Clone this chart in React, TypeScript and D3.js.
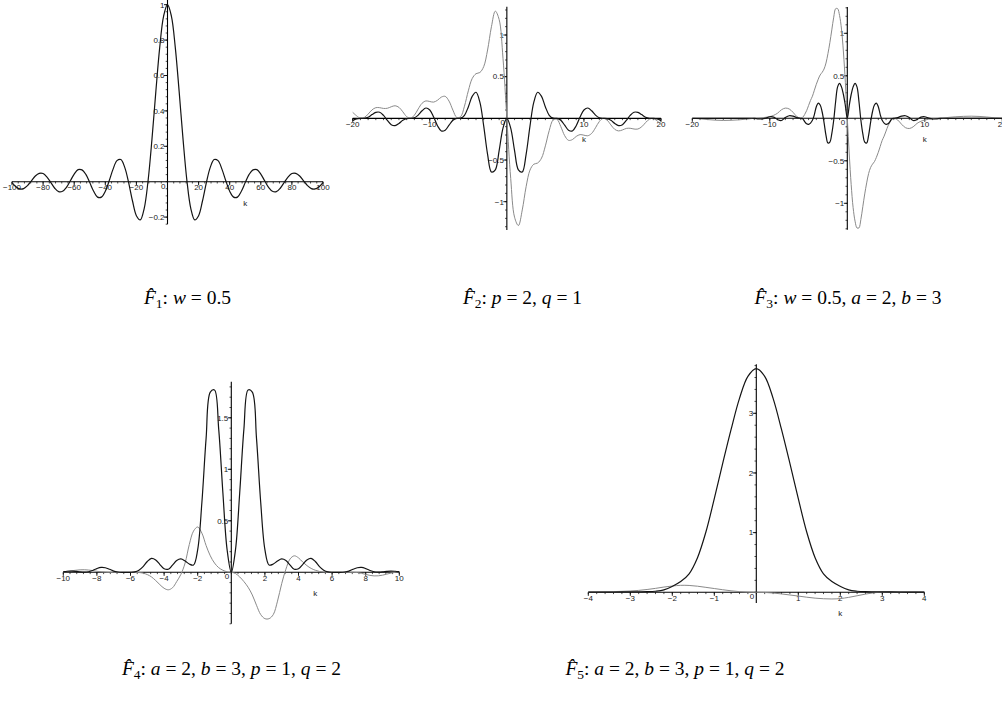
import React from 'react';
import * as d3 from 'd3';

// ---------- Panel 1 data ----------
const f1K = [-100,-97.5,-95,-92.5,-90,-87.5,-85,-82.5,-80,-77.5,-75,-72.5,-70,-67.5,-65,-62.5,-60,-57.5,-55,-52.5,-50,-47.5,-45,-42.5,-40,-37.5,-35,-32.5,-30,-27.5,-25,-22.5,-20,-17.5,-15,-12.5,-10,-7.5,-5,-2.5,0,2.5,5,7.5,10,12.5,15,17.5,20,22.5,25,27.5,30,32.5,35,37.5,40,42.5,45,47.5,50,52.5,55,57.5,60,62.5,65,67.5,70,72.5,75,77.5,80,82.5,85,87.5,90,92.5,95,97.5,100];
const f1Black = [-0.005,-0.028,-0.041,-0.039,-0.022,0.005,0.032,0.047,0.046,0.026,-0.005,-0.037,-0.056,-0.054,-0.032,0.005,0.043,0.068,0.067,0.041,-0.005,-0.054,-0.087,-0.087,-0.054,0.005,0.071,0.119,0.125,0.081,-0.005,-0.109,-0.192,-0.216,-0.152,0.005,0.239,0.509,0.759,0.936,1,0.936,0.759,0.509,0.239,0.005,-0.152,-0.216,-0.192,-0.109,-0.005,0.081,0.125,0.119,0.071,0.005,-0.054,-0.087,-0.087,-0.054,-0.005,0.041,0.067,0.068,0.043,0.005,-0.032,-0.054,-0.056,-0.037,-0.005,0.026,0.046,0.047,0.032,0.005,-0.022,-0.039,-0.041,-0.028,-0.005];

// ---------- Panel 2 data ----------
const f2K = [-20,-19.5,-19,-18.5,-18,-17.5,-17,-16.5,-16,-15.5,-15,-14.5,-14,-13.5,-13,-12.5,-12,-11.5,-11,-10.5,-10,-9.5,-9,-8.5,-8,-7.5,-7,-6.5,-6,-5.5,-5,-4.5,-4,-3.5,-3,-2.5,-2,-1.5,-1,-0.5,0,0.5,1,1.5,2,2.5,3,3.5,4,4.5,5,5.5,6,6.5,7,7.5,8,8.5,9,9.5,10,10.5,11,11.5,12,12.5,13,13.5,14,14.5,15,15.5,16,16.5,17,17.5,18,18.5,19,19.5,20];
const f2Black = [-0.027,-0.007,0.000,0.001,0.014,0.045,0.072,0.073,0.035,-0.025,-0.076,-0.087,-0.061,-0.024,-0.003,0.000,0.007,0.039,0.091,0.124,0.100,0.016,-0.088,-0.151,-0.142,-0.082,-0.023,-0.001,0.002,0.037,0.137,0.263,0.313,0.194,-0.094,-0.431,-0.644,-0.618,-0.387,-0.117,0,-0.117,-0.387,-0.618,-0.644,-0.431,-0.094,0.194,0.313,0.263,0.137,0.037,0.002,-0.001,-0.023,-0.082,-0.142,-0.151,-0.088,0.016,0.100,0.124,0.091,0.039,0.007,0.000,-0.003,-0.024,-0.061,-0.087,-0.076,-0.025,0.035,0.073,0.072,0.045,0.014,0.001,0.000,-0.007,-0.027];
const f2Grey = [0.072,0.031,0.002,0.010,0.051,0.101,0.128,0.128,0.119,0.121,0.139,0.151,0.132,0.079,0.021,0.001,0.038,0.113,0.181,0.209,0.202,0.195,0.217,0.255,0.264,0.207,0.099,0.011,0.020,0.146,0.330,0.477,0.536,0.550,0.621,0.820,1.099,1.286,1.186,0.721,0,-0.721,-1.186,-1.286,-1.099,-0.820,-0.621,-0.550,-0.536,-0.477,-0.330,-0.146,-0.020,-0.011,-0.099,-0.207,-0.264,-0.255,-0.217,-0.195,-0.202,-0.209,-0.181,-0.113,-0.038,-0.001,-0.021,-0.079,-0.132,-0.151,-0.139,-0.121,-0.119,-0.128,-0.128,-0.101,-0.051,-0.010,-0.002,-0.031,-0.072];

// ---------- Panel 3 data ----------
const f3K = [-20,-19,-18,-17,-16,-15,-14,-13,-12,-11.5,-11,-10.5,-10,-9.5,-9,-8.5,-8,-7.5,-7,-6.5,-6,-5.75,-5.5,-5.25,-5,-4.75,-4.5,-4.25,-4,-3.75,-3.5,-3.25,-3,-2.75,-2.5,-2.25,-2,-1.75,-1.5,-1.25,-1,-0.75,-0.5,-0.25,0,0.25,0.5,0.75,1,1.25,1.5,1.75,2,2.25,2.5,2.75,3,3.25,3.5,3.75,4,4.25,4.5,4.75,5,5.25,5.5,5.75,6,6.5,7,7.5,8,8.5,9,9.5,10,10.5,11,11.5,12,13,14,15,16,17,18,19,20];
const f3Black = [0,0,0,0,0,0,0,0,0,-0.006,-0.008,0.002,0.018,0.014,-0.015,-0.026,0.008,0.03,0.025,0.008,0.0,-0.005,-0.039,-0.065,-0.071,-0.056,-0.024,0.044,0.136,0.179,0.157,0.077,-0.05,-0.20,-0.29,-0.28,-0.18,-0.02,0.20,0.37,0.41,0.37,0.28,0.15,0,0.15,0.28,0.37,0.41,0.37,0.20,-0.02,-0.18,-0.28,-0.29,-0.20,-0.05,0.077,0.157,0.179,0.136,0.044,-0.024,-0.056,-0.071,-0.065,-0.039,-0.005,0.0,0.008,0.025,0.03,0.008,-0.026,-0.015,0.014,0.018,0.002,-0.008,-0.006,0,0,0,0,0,0,0,0,0];
const f3Grey = [0,-0.006,-0.015,-0.022,-0.025,-0.023,-0.018,-0.01,0,0.002,0.006,0.012,0.02,0.035,0.06,0.10,0.12,0.11,0.07,0.02,0,0.012,0.045,0.09,0.15,0.21,0.26,0.33,0.40,0.46,0.51,0.54,0.58,0.65,0.76,0.89,1.04,1.19,1.29,1.29,1.21,1.05,0.78,0.42,0,-0.42,-0.78,-1.05,-1.21,-1.29,-1.29,-1.19,-1.04,-0.89,-0.76,-0.65,-0.58,-0.54,-0.51,-0.46,-0.40,-0.33,-0.26,-0.21,-0.15,-0.09,-0.045,-0.012,0.0,-0.02,-0.07,-0.11,-0.12,-0.10,-0.06,-0.035,-0.02,-0.012,-0.006,-0.002,0.0,0.01,0.018,0.023,0.025,0.022,0.015,0.006,0.0];

// ---------- Panel 4 data ----------
const f4K = [-10,-9.75,-9.5,-9.25,-9,-8.75,-8.5,-8.25,-8,-7.75,-7.5,-7.25,-7,-6.75,-6.5,-6.25,-6,-5.75,-5.5,-5.25,-5,-4.75,-4.5,-4.25,-4,-3.75,-3.5,-3.25,-3,-2.75,-2.5,-2.25,-2,-1.75,-1.5,-1.25,-1,-0.75,-0.5,-0.25,0,0.25,0.5,0.75,1,1.25,1.5,1.75,2,2.25,2.5,2.75,3,3.25,3.5,3.75,4,4.25,4.5,4.75,5,5.25,5.5,5.75,6,6.25,6.5,6.75,7,7.25,7.5,7.75,8,8.25,8.5,8.75,9,9.25,9.5,9.75,10];
const f4Black = [0.006,0.01,0.012,0.009,0.004,0.002,0.005,0.018,0.036,0.047,0.044,0.03,0.012,0.003,0,0,0,0.004,0.02,0.055,0.105,0.135,0.12,0.075,0.035,0.03,0.07,0.115,0.13,0.11,0.08,0.07,0.22,0.68,1.30,1.75,1.77,1.39,0.77,0.22,0,0.22,0.77,1.39,1.77,1.75,1.30,0.68,0.22,0.07,0.08,0.11,0.13,0.115,0.07,0.03,0.035,0.075,0.12,0.135,0.105,0.055,0.02,0.004,0,0,0,0.003,0.012,0.03,0.044,0.047,0.036,0.018,0.005,0.002,0.004,0.009,0.012,0.01,0.006];
const f4Grey = [0.005,0.01,0.015,0.02,0.024,0.025,0.022,0.017,0.01,0.005,0.002,0,0,0,0,0,0,0,-0.002,-0.008,-0.022,-0.045,-0.08,-0.12,-0.155,-0.17,-0.15,-0.09,-0.02,0.09,0.27,0.4,0.44,0.38,0.26,0.16,0.09,0.045,0.02,0.005,0,-0.012,-0.045,-0.09,-0.145,-0.22,-0.32,-0.41,-0.45,-0.45,-0.41,-0.28,-0.11,0.03,0.13,0.16,0.14,0.1,0.065,0.038,0.02,0.008,0.003,0,0,0,0,0,0,0,-0.002,-0.01,-0.02,-0.03,-0.035,-0.034,-0.028,-0.018,-0.008,0,0.006];

// ---------- Panel 5 data ----------
const f5K = [-4,-3.8,-3.6,-3.4,-3.2,-3,-2.8,-2.6,-2.4,-2.2,-2,-1.8,-1.6,-1.4,-1.2,-1,-0.8,-0.6,-0.4,-0.2,0,0.2,0.4,0.6,0.8,1,1.2,1.4,1.6,1.8,2,2.2,2.4,2.6,2.8,3,3.2,3.4,3.6,3.8,4];
const f5Black = [0.003,0.004,0.004,0.005,0.006,0.007,0.008,0.01,0.018,0.04,0.1,0.18,0.31,0.58,1.01,1.57,2.16,2.73,3.25,3.62,3.75,3.62,3.25,2.73,2.16,1.57,1.01,0.58,0.31,0.18,0.1,0.04,0.018,0.01,0.008,0.007,0.006,0.005,0.004,0.004,0.003];
const f5Grey = [0.005,0.007,0.009,0.012,0.016,0.022,0.032,0.047,0.066,0.088,0.105,0.117,0.115,0.102,0.083,0.063,0.043,0.025,0.011,0.003,0,-0.003,-0.012,-0.027,-0.045,-0.063,-0.082,-0.098,-0.108,-0.112,-0.105,-0.085,-0.058,-0.03,-0.008,0.004,0.009,0.01,0.009,0.008,0.007];

// ---------- Tick labels ----------
const p1XTicks = [-100,-80,-60,-40,-20,20,40,60,80,100];
const p1YTicks = [-0.2,0.2,0.4,0.6,0.8,1];
const p2XTicks = [-20,-10,10,20];
const p2YTicks = [-1,-0.5,0.5,1];
const p3XTicks = [-20,-10,10,20];
const p3YTicks = [-1,-0.5,0.5,1];
const p4XTicks = [-10,-8,-6,-4,-2,2,4,6,8,10];
const p4YTicks = [0.5,1,1.5];
const p5XTicks = [-4,-3,-2,-1,1,2,3,4];
const p5YTicks = [1,2,3];

// ---------- Captions ----------
const captionIndex = ['1','2','3','4','5'];
const captionParams: [string,string][][] = [
  [['w','0.5']],
  [['p','2'],['q','1']],
  [['w','0.5'],['a','2'],['b','3']],
  [['a','2'],['b','3'],['p','1'],['q','2']],
  [['a','2'],['b','3'],['p','1'],['q','2']],
];

type Series = { k: number[]; v: number[]; color: string; width: number };
type PanelCfg = {
  xDom: [number, number]; xRng: [number, number];
  yDom: [number, number]; yRng: [number, number];
  yExt: [number, number];
  xTicks: number[]; yTicks: number[];
  xMinor: number; yMinor: number;
  series: Series[];
  kAt: number;
};

const BLACK = '#141414';
const GREY = '#8a8a8a';

const panels: PanelCfg[] = [
  { xDom: [-100, 100], xRng: [12, 323], yDom: [0, 1], yRng: [181.7, 4.7], yExt: [-0.24, 1.03],
    xTicks: p1XTicks, yTicks: p1YTicks, xMinor: 4, yMinor: 0.04, kAt: 50,
    series: [{ k: f1K, v: f1Black, color: BLACK, width: 1.2 }] },
  { xDom: [-20, 20], xRng: [352.7, 661], yDom: [-1, 1], yRng: [201.7, 35], yExt: [-1.34, 1.34],
    xTicks: p2XTicks, yTicks: p2YTicks, xMinor: 1, yMinor: 0.1, kAt: 10,
    series: [{ k: f2K, v: f2Grey, color: GREY, width: 1 }, { k: f2K, v: f2Black, color: BLACK, width: 1.2 }] },
  { xDom: [-20, 20], xRng: [692.3, 1002.3], yDom: [-1, 1], yRng: [203.3, 33.3], yExt: [-1.31, 1.31],
    xTicks: p3XTicks, yTicks: p3YTicks, xMinor: 1, yMinor: 0.1, kAt: 10,
    series: [{ k: f3K, v: f3Grey, color: GREY, width: 1 }, { k: f3K, v: f3Black, color: BLACK, width: 1.2 }] },
  { xDom: [-10, 10], xRng: [63.3, 399.3], yDom: [0, 1.5], yRng: [572.3, 417.8], yExt: [-0.5, 1.85],
    xTicks: p4XTicks, yTicks: p4YTicks, xMinor: 0.4, yMinor: 0.1, kAt: 5,
    series: [{ k: f4K, v: f4Grey, color: GREY, width: 1 }, { k: f4K, v: f4Black, color: BLACK, width: 1.2 }] },
  { xDom: [-4, 4], xRng: [588.3, 924.3], yDom: [0, 3], yRng: [592.3, 413.3], yExt: [-0.18, 3.82],
    xTicks: p5XTicks, yTicks: p5YTicks, xMinor: 0.2, yMinor: 0.2, kAt: 2,
    series: [{ k: f5K, v: f5Grey, color: GREY, width: 1 }, { k: f5K, v: f5Black, color: BLACK, width: 1.2 }] },
];

// caption centre x, baseline y
const captionPos: [number, number][] = [[187.5, 304], [522.5, 304], [848, 304], [231.5, 675], [675, 675]];

const fmt = (v: number) => (v < 0 ? '\u2212' : '') + String(Math.abs(v));

function Panel({ cfg }: { cfg: PanelCfg }) {
  const x = d3.scaleLinear().domain(cfg.xDom).range(cfg.xRng);
  const y = d3.scaleLinear().domain(cfg.yDom).range(cfg.yRng);
  const x0 = x(0), y0 = y(0);
  const tickFont = { fontFamily: '"Liberation Sans", Arial, sans-serif', fontSize: 8, fill: '#222' };
  const xMin = d3.range(cfg.xDom[0], cfg.xDom[1] + 1e-9, cfg.xMinor);
  const yMin = d3.range(Math.ceil(cfg.yExt[0] / cfg.yMinor) * cfg.yMinor, cfg.yExt[1] + 1e-9, cfg.yMinor);
  const mk = (s: Series) =>
    d3.line<number>()
      .x((_, i) => x(s.k[i]))
      .y((v) => y(v))
      .curve(d3.curveCatmullRom.alpha(0.5))(s.v) || '';
  return (
    <g>
      <line x1={x(cfg.xDom[0])} x2={x(cfg.xDom[1])} y1={y0} y2={y0} stroke="#000" strokeWidth={1.1} />
      <line x1={x0} x2={x0} y1={y(cfg.yExt[0])} y2={y(cfg.yExt[1])} stroke="#000" strokeWidth={1.1} />
      {xMin.map((t, i) => (
        <line key={'xm' + i} x1={x(t)} x2={x(t)} y1={y0} y2={y0 + 1.8} stroke="#000" strokeWidth={0.7} />
      ))}
      {yMin.map((t, i) => (
        <line key={'ym' + i} x1={x0 - 1.8} x2={x0} y1={y(t)} y2={y(t)} stroke="#000" strokeWidth={0.7} />
      ))}
      {cfg.xTicks.map((t) => (
        <g key={'xt' + t}>
          <line x1={x(t)} x2={x(t)} y1={y0} y2={y0 + 3.5} stroke="#000" strokeWidth={0.9} />
          <text x={x(t)} y={y0 + 8.5} textAnchor="middle" {...tickFont}>{fmt(t)}</text>
        </g>
      ))}
      {cfg.yTicks.map((t) => (
        <g key={'yt' + t}>
          <line x1={x0 - 3.5} x2={x0} y1={y(t)} y2={y(t)} stroke="#000" strokeWidth={0.9} />
          <text x={x0 - 3} y={y(t) + 2.8} textAnchor="end" {...tickFont}>{fmt(t)}</text>
        </g>
      ))}
      <text x={x0 - 2} y={y0 + 7} textAnchor="end" {...tickFont}>0</text>
      <text x={x(cfg.kAt)} y={y0 + 24} textAnchor="middle" {...tickFont}>k</text>
      {cfg.series.map((s, i) => (
        <path key={'s' + i} d={mk(s)} fill="none" stroke={s.color} strokeWidth={s.width} strokeLinejoin="round" />
      ))}
    </g>
  );
}

function Caption({ idx }: { idx: number }) {
  const [cx, cy] = captionPos[idx];
  const params = captionParams[idx];
  return (
    <text x={cx} y={cy} textAnchor="middle"
      fontFamily='"Liberation Serif", "DejaVu Serif", serif' fontSize={19.5} fill="#000">
      <tspan fontStyle="italic">{'F\u0302'}</tspan>
      <tspan fontSize={13.5} dy={4}>{captionIndex[idx]}</tspan>
      <tspan dy={-4}>{': '}</tspan>
      {params.map(([name, val], j) => (
        <React.Fragment key={j}>
          <tspan fontStyle="italic">{name}</tspan>
          <tspan>{' = ' + val + (j < params.length - 1 ? ', ' : '')}</tspan>
        </React.Fragment>
      ))}
    </text>
  );
}

export default function App() {
  return (
    <svg width={1002} height={704} style={{ position: 'absolute', left: 0, top: 0, background: '#fff' }}>
      <rect x={0} y={0} width={1002} height={704} fill="#fff" />
      {panels.map((p, i) => <Panel key={i} cfg={p} />)}
      {captionIndex.map((_, i) => <Caption key={i} idx={i} />)}
    </svg>
  );
}
